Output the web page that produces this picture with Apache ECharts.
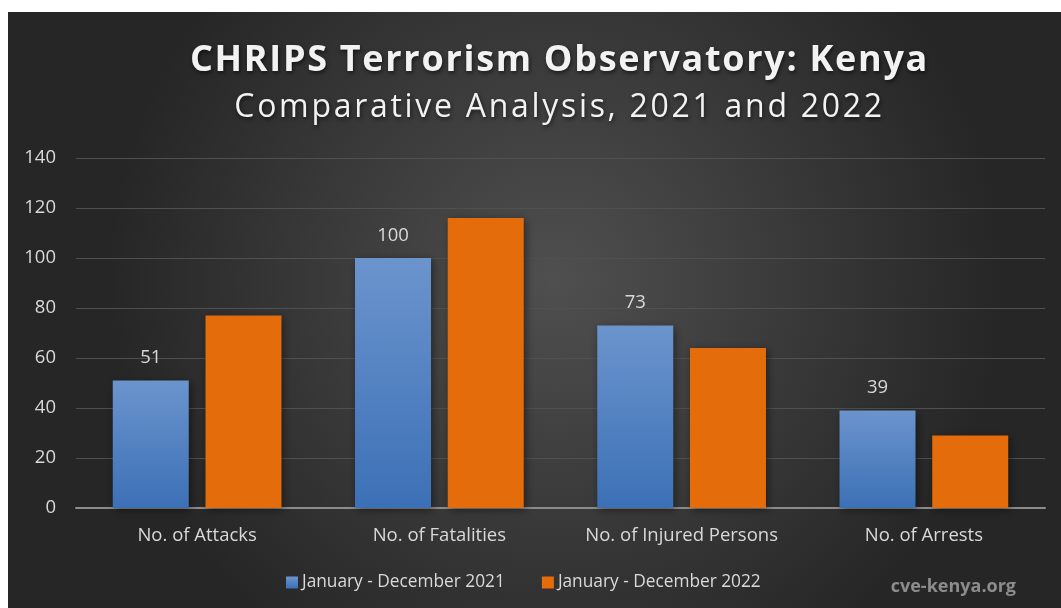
<!DOCTYPE html>
<html><head><meta charset="utf-8">
<script src="https://cdn.jsdelivr.net/npm/echarts@6/dist/echarts.min.js"></script>
<style>
html,body{margin:0;padding:0;background:#fff;width:1061px;height:608px;overflow:hidden}
#c{position:absolute;left:8px;top:12px;width:1053px;height:596px}
.t{position:absolute;left:0;width:1119px;text-align:center;color:#f2f2f2;font-family:"Open Sans",sans-serif;white-space:nowrap;text-shadow:1px 2px 4px rgba(0,0,0,0.6);pointer-events:none}
#t1{top:36px;font-size:36px;font-weight:bold;letter-spacing:1.7px;line-height:44px}
#t2{top:83px;font-size:32px;letter-spacing:2.7px;line-height:44px}
</style></head><body>
<div id="c"></div>
<div class="t" id="t1"></div>
<div class="t" id="t2"></div>
<script>
var categories = ['No. of Attacks', 'No. of Fatalities', 'No. of Injured Persons', 'No. of Arrests'];
var seriesNames = ['January - December 2021', 'January - December 2022'];
var values2021 = [51, 100, 73, 39];
var values2022 = [77, 116, 64, 29];
var yTicks = [0, 20, 40, 60, 80, 100, 120, 140];
var titleText = 'CHRIPS Terrorism Observatory: Kenya';
var subtitleText = 'Comparative Analysis, 2021 and 2022';
var watermark = 'cve-kenya.org';

document.getElementById('t1').textContent = titleText;
document.getElementById('t2').textContent = subtitleText;

var chart = echarts.init(document.getElementById('c'));
var font = '"Open Sans", sans-serif';
var txt = '#d9d9d9';
var fs = 18.5;
chart.setOption({
  backgroundColor: {
    type: 'radial', x: 0.52, y: 0.45, r: 0.75,
    colorStops: [{offset: 0, color: '#4f4f4f'}, {offset: 1, color: '#262626'}]
  },
  animation: false,
  textStyle: {fontFamily: font},
  grid: {left: 68, right: 16, top: 146, bottom: 100},
  legend: {
    data: seriesNames, bottom: 12, left: 273, itemWidth: 12, itemHeight: 12, itemGap: 37,
    icon: 'rect',
    textStyle: {color: txt, fontSize: 17.3, fontFamily: font, padding: [0, 0, 0, -1]}
  },
  graphic: [
    {type: 'text', right: 45, bottom: 12, style: {text: watermark, font: 'bold 18px ' + font, fill: '#8c8c8c'}}
  ],
  xAxis: {
    type: 'category', data: categories,
    axisLine: {lineStyle: {color: '#8c8c8c', width: 2}},
    axisTick: {show: false},
    axisLabel: {color: txt, fontSize: fs, margin: 18, fontFamily: font, interval: 0}
  },
  yAxis: {
    type: 'value', min: 0, max: 140, interval: 20,
    axisLine: {show: false}, axisTick: {show: false},
    splitLine: {lineStyle: {color: '#505050', width: 1}},
    axisLabel: {color: txt, fontSize: fs, margin: 20, fontFamily: font,
      formatter: function (v) { return yTicks.indexOf(v) >= 0 ? String(v) : ''; }}
  },
  series: [
    {
      name: seriesNames[0], type: 'bar', data: values2021, barWidth: 76, barGap: '22%',
      itemStyle: {
        color: {type: 'linear', x: 0, y: 0, x2: 0, y2: 1, colorStops: [{offset: 0, color: '#6b94cd'}, {offset: 1, color: '#3c70b6'}]},
        shadowColor: 'rgba(0,0,0,0.45)', shadowBlur: 8, shadowOffsetX: 2, shadowOffsetY: 2
      },
      label: {show: true, position: 'top', distance: 13, color: txt, fontSize: fs, fontFamily: font}
    },
    {
      name: seriesNames[1], type: 'bar', data: values2022, barWidth: 76,
      itemStyle: {color: '#e46c0a', shadowColor: 'rgba(0,0,0,0.45)', shadowBlur: 8, shadowOffsetX: 2, shadowOffsetY: 2}
    }
  ]
});
</script>
</body></html>
